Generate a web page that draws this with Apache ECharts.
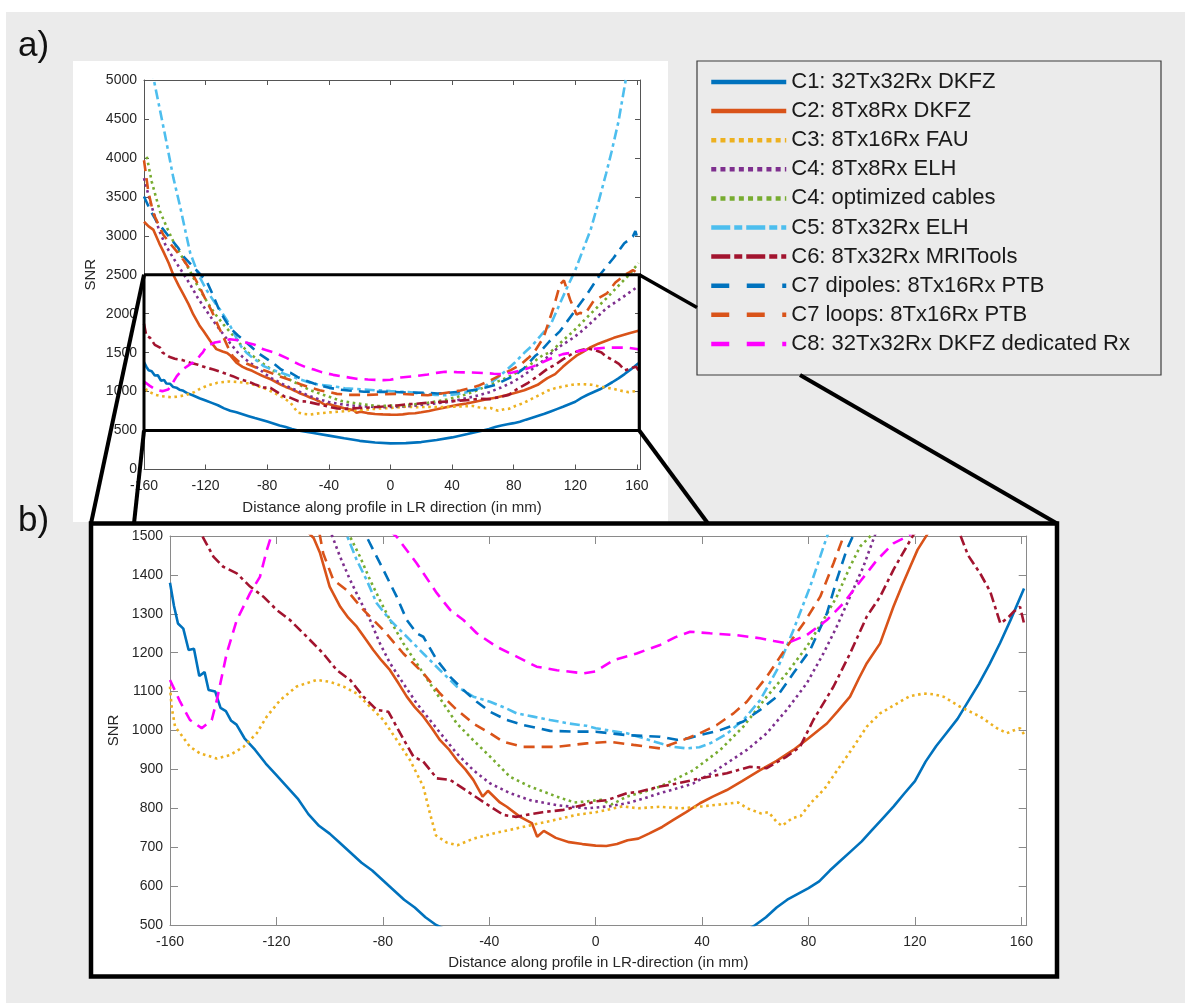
<!DOCTYPE html>
<html><head><meta charset="utf-8">
<script src="https://cdn.jsdelivr.net/npm/echarts@6/dist/echarts.min.js"></script>
<style>html,body{margin:0;padding:0;background:#fff}#c{width:1185px;height:1003px}</style>
</head><body><div id="c"></div>
<script>
// ---------------- data ----------------
const seriesNames = ['C1: 32Tx32Rx DKFZ','C2: 8Tx8Rx DKFZ','C3: 8Tx16Rx FAU','C4: 8Tx8Rx ELH','C4: optimized cables','C5: 8Tx32Rx ELH','C6: 8Tx32Rx MRITools','C7 dipoles: 8Tx16Rx PTB','C7 loops: 8Tx16Rx PTB','C8: 32Tx32Rx DKFZ dedicated Rx'];
const xTicks = [-160,-120,-80,-40,0,40,80,120,160];
const yTicksA = [0,500,1000,1500,2000,2500,3000,3500,4000,4500,5000];
const yTicksB = [500,600,700,800,900,1000,1100,1200,1300,1400,1500];
const zoomBoxX = [-160,161.5];
const zoomBoxY = [500,2500];

const c1 = [[-160,1380],[-158.5,1320],[-157,1275],[-155,1262],[-153,1207],[-151,1210],[-149,1140],[-147,1150],[-145.5,1104],[-143,1100],[-141,1058],[-139,1050],[-137,1025],[-135,1015],[-132,980],[-128,950],[-124,915],[-120,885],[-116,855],[-112,825],[-108,785],[-104,755],[-100,735],[-96,710],[-92,685],[-88,660],[-84,640],[-80,615],[-76,590],[-72,565],[-68,545],[-64,520],[-60,500],[-50,468],[-40,435],[-30,400],[-20,368],[-10,347],[0,335],[10,338],[20,352],[30,378],[40,412],[50,455],[60,500],[64,520],[68,545],[72,565],[76,580],[80,595],[84,612],[88,640],[92,665],[96,690],[100,715],[104,745],[108,775],[112,805],[116,838],[120,870],[124,920],[128,960],[132,995],[136,1030],[140,1075],[144,1120],[148,1170],[152,1225],[156,1285],[161,1365]];
const c2 = [[-160,3180],[-157,3120],[-154,3080],[-150,2900],[-147.5,2800],[-144,2650],[-141,2500],[-137.5,2360],[-134.5,2250],[-131,2120],[-128,1990],[-124,1850],[-121.5,1780],[-117,1650],[-113,1545],[-109,1515],[-106,1495],[-103.6,1456],[-100,1370],[-96,1318],[-93,1290],[-89.8,1267],[-86.5,1235],[-83.6,1207],[-80.5,1180],[-77.3,1155],[-74,1120],[-71,1087],[-68,1060],[-64.8,1036],[-61.5,1005],[-58.5,975],[-55,950],[-52.2,924],[-49,900],[-46,873],[-42.5,830],[-40.5,845],[-36,815],[-33.4,804],[-28.4,778],[-24,762],[-22,727],[-19.5,742],[-15,724],[-10,713],[-5,708],[0,704],[4,703],[8,708],[12,718],[16,722],[20,735],[25,752],[29.2,770],[34,790],[39.2,813],[44,830],[49.3,847],[55,870],[61.8,898],[68,922],[74.3,950],[80,980],[86.9,1018],[91,1050],[95.6,1087],[99,1135],[101.9,1173],[106.9,1224],[111.9,1318],[115,1370],[118.2,1421],[121,1465],[124.5,1503],[130,1570],[135,1615],[140.5,1655],[145,1690],[150,1720],[155,1750],[161,1780]];
const c3 = [[-160,1113],[-159.4,1061],[-158.1,1010],[-156.2,993],[-152.5,958],[-148.7,941],[-142.4,928],[-137.4,937],[-132.4,958],[-127.4,993],[-123.6,1036],[-118.6,1078],[-112.4,1113],[-104.9,1130],[-99.8,1125],[-94.8,1113],[-89.8,1095],[-84.8,1061],[-79.8,1027],[-74.8,976],[-69.8,924],[-64.8,856],[-62.3,787],[-60,730],[-56,712],[-52,705],[-46,722],[-38,736],[-30,748],[-21.4,761],[-14,772],[-7.4,783],[0,790],[4.3,796],[10,805],[16,800],[24,804],[32,800],[40,805],[47,810],[53.5,815],[57,800],[62,787],[65,790],[68,765],[70,755],[74,775],[77,780],[81,815],[86,850],[90,890],[96.9,958],[101.9,1010],[106.9,1044],[114.4,1074],[118,1088],[123.2,1095],[127,1093],[130.7,1087],[137,1061],[144.5,1036],[150.8,1006],[154.5,993],[157,1000],[159.5,1006],[161,990]];
const c4 = [[-160,3740],[-156,3440],[-150,3060],[-146,2880],[-141,2715],[-135,2530],[-130,2375],[-125,2200],[-119.3,2033],[-114,1880],[-108.5,1735],[-104,1620],[-99.2,1503],[-96.1,1447],[-92.3,1387],[-88.6,1335],[-84.8,1284],[-81.1,1224],[-77.3,1173],[-72.3,1121],[-67.3,1070],[-62.3,1027],[-57.3,984],[-52.2,941],[-46,898],[-39.7,864],[-32.2,839],[-24.7,821],[-14.6,808],[-3.4,800],[5,805],[11.7,813],[18,825],[24.2,839],[30,850],[36.7,864],[43,888],[49.3,916],[56.8,950],[64.3,993],[71.8,1053],[79.3,1121],[85.6,1198],[90.6,1267],[95.6,1344],[100.6,1421],[105,1503],[110,1580],[118.8,1692],[125,1790],[130,1880],[140.5,2075],[150,2200],[155,2270],[160,2340]];
const c4opt = [[-158.2,4015],[-155,3696],[-152,3480],[-149.6,3312],[-145,3100],[-141,2929],[-135,2720],[-130.1,2545],[-125,2350],[-119.3,2161],[-114,2000],[-108.5,1863],[-103,1740],[-98,1620],[-95,1560],[-92.3,1498],[-88.6,1447],[-84.8,1387],[-81.1,1335],[-77.3,1284],[-72.3,1224],[-67.3,1173],[-62.3,1121],[-57.3,1070],[-52.2,1018],[-46,975],[-39.7,933],[-32.2,881],[-24.7,856],[-14.6,830],[-8,815],[-3,818],[2,822],[6,810],[11.7,830],[18,842],[24.2,856],[30,875],[36.7,898],[41,920],[46.8,950],[55.5,1010],[64.3,1087],[71.8,1147],[79.3,1215],[85.6,1284],[90.6,1344],[95.6,1421],[99.4,1473],[103.7,1503],[110,1620],[118.8,1777],[125,1900],[130,2000],[140.5,2203],[150,2400],[155,2500],[161,2650]];
const c5 = [[-155,5150],[-153.6,5000],[-150,4650],[-146.4,4300],[-141,3750],[-136.6,3380],[-133,3050],[-130,2780],[-124.7,2500],[-119.3,2300],[-115,2170],[-110.6,2050],[-105,1880],[-100,1690],[-97,1580],[-93.6,1503],[-89.8,1438],[-86.1,1387],[-82.3,1327],[-77.3,1284],[-71,1241],[-64.8,1198],[-58.5,1155],[-52.2,1113],[-46,1087],[-39.7,1074],[-34,1058],[-29.7,1044],[-23,1035],[-17.1,1027],[-10,1018],[-3.4,1012],[0,1006],[5,1000],[11.7,993],[18,980],[24.2,967],[29,958],[34.2,954],[39,957],[43,967],[49,990],[55.5,1027],[61.8,1078],[68.1,1155],[74.3,1258],[80.6,1370],[86.9,1498],[92,1590],[98,1730],[104,1860],[110,2130],[115,2350],[120,2560],[125,2820],[130,3080],[135,3430],[140,3800],[143.5,4076],[148,4463],[152.5,4974],[155,5250]];
const c6 = [[-160,1870],[-158.5,1720],[-156,1690],[-153,1600],[-149.6,1564],[-148.1,1503],[-143.7,1447],[-140,1421],[-134.9,1404],[-129.9,1370],[-124.9,1344],[-119.9,1310],[-114.9,1284],[-108.6,1241],[-102.4,1198],[-97.3,1155],[-92.3,1130],[-87.3,1087],[-82.3,1053],[-77.9,1048],[-73.5,993],[-68.5,933],[-64.8,920],[-59.7,877],[-54.7,873],[-47.2,839],[-39.7,805],[-34.7,783],[-30,778],[-26.2,783],[-20,790],[-12.1,796],[-5,808],[0,818],[4.3,821],[11.7,839],[16,842],[24.2,856],[30,863],[36.7,873],[43,882],[49.3,890],[58,907],[64.3,903],[71.8,933],[76.8,958],[81.8,1027],[89.4,1113],[95.6,1198],[101.9,1293],[106.9,1344],[111.9,1413],[116.9,1473],[119.4,1503],[124,1535],[128.5,1550],[133,1530],[137,1503],[140,1450],[144.5,1404],[148.3,1357],[152.1,1275],[155,1290],[157,1305],[159.5,1318],[161,1275]];
const c7dip = [[-160,3504],[-156,3330],[-151.8,3184],[-147,3070],[-143.1,2971],[-138,2850],[-134.5,2737],[-127,2580],[-119.3,2417],[-115,2230],[-111.8,2075],[-108,1940],[-104.2,1820],[-99,1720],[-93.3,1628],[-89.5,1560],[-86.1,1498],[-79.8,1413],[-74.8,1344],[-71,1284],[-67.3,1250],[-64.8,1241],[-59.7,1181],[-54.7,1138],[-49.7,1104],[-44.7,1074],[-39.7,1048],[-33.4,1027],[-27.2,1014],[-17.1,999],[-7.1,997],[0,997],[11.7,988],[24.2,984],[30.5,976],[35,980],[39.2,988],[46.8,1001],[55.5,1023],[61.8,1053],[68.1,1087],[74.3,1147],[80.6,1207],[86.9,1301],[90.6,1387],[94.3,1464],[96.9,1503],[103,1640],[110.1,1777],[118.8,2011],[127.5,2247],[136.1,2503],[144.8,2715],[151.8,2905],[155,2950],[157.4,2992],[159,3060],[160,2990],[161,3050]];
const c7loop = [[-160,3970],[-157.2,3568],[-154,3290],[-147.5,3014],[-143,2900],[-138.8,2800],[-134,2680],[-130.1,2567],[-123.6,2331],[-120,2180],[-116,2033],[-112,1850],[-108,1680],[-105,1550],[-102.4,1455],[-98.6,1387],[-93.6,1361],[-87.3,1310],[-79.8,1258],[-72.3,1198],[-64.8,1147],[-58.5,1095],[-52.2,1053],[-46,1018],[-39.7,993],[-34.7,971],[-27.2,958],[-14.6,958],[-3.4,967],[5.4,971],[14.2,963],[24.2,954],[33,976],[39.2,993],[45.5,1014],[51.8,1044],[56.8,1074],[64.3,1138],[71.8,1215],[78.1,1275],[84.4,1344],[89.4,1430],[93.1,1498],[99.3,1692],[105.8,2075],[110.1,2375],[112.6,2428],[116.6,2183],[120.8,1990],[123.1,2011],[126.4,2000],[131.8,2161],[140.5,2260],[146,2400],[151.8,2493],[155,2530],[157.4,2559],[161,2515]];
const c8 = [[-160,1130],[-156.2,1074],[-152.5,1027],[-148.1,1006],[-144.3,1027],[-142.4,1078],[-138.7,1198],[-134.9,1284],[-129.9,1353],[-126.2,1395],[-123.6,1464],[-121.8,1503],[-119.3,1586],[-114,1630],[-108.5,1650],[-104.2,1671],[-99,1660],[-93.3,1628],[-88,1600],[-82.5,1543],[-74.8,1498],[-67.3,1430],[-59.7,1353],[-54.7,1310],[-49.7,1284],[-44.7,1250],[-37.2,1215],[-29.7,1190],[-22.2,1164],[-14.6,1155],[-4.6,1147],[0,1152],[6.7,1181],[15.4,1198],[24.2,1220],[30,1240],[35.5,1254],[43,1250],[53,1245],[61.8,1237],[67,1230],[71.8,1224],[79.3,1245],[86.9,1284],[93.1,1327],[99.4,1383],[105.7,1438],[111.9,1481],[115.7,1494],[122,1520],[129.6,1543],[140,1565],[153.4,1564],[161,1543]];

const seriesValues = [c1,c2,c3,c4,c4opt,c5,c6,c7dip,c7loop,c8];

// ---------------- styles ----------------
const colors = ['#0072BD','#D95319','#EDB120','#7E2F8E','#77AC30','#4DBEEE','#A2142F','#0072BD','#D95319','#FF00FF'];
const kinds = ['solid','solid','dot','dot','dot','dashdot','dashdot','dash','dash','dash'];
const plotDash = {solid:'solid', dot:[2.6,3.6], dashdot:[10,4,3.5,4], dash:[11,7]};
const legendDash = {solid:'solid', dot:[5,4.2], dashdot:[19,4,8,4], dash:[18,17.5]};
const FONT = '"Liberation Sans", Arial, Helvetica, sans-serif';
const TXT = '#262626';

const xMin = xTicks[0], xMax = 162, xStep = xTicks[1]-xTicks[0];

const chart = echarts.init(document.getElementById('c'), null, {renderer:'canvas', width:1185, height:1003});

function xAx(g, pos, labels, tl, col, name, gap) {
  return {
    gridIndex:g, type:'value', position:pos, min:xMin, max:xMax, interval:xStep,
    axisLine:{show:true, onZero:false, lineStyle:{color:col, width:1}},
    axisTick:{show:true, inside:true, length:tl, lineStyle:{color:col, width:1}},
    axisLabel:{show:labels, margin:10, fontSize:14, color:TXT, fontFamily:FONT,
      formatter:v => (Math.abs(v % xStep) < 1e-9 ? String(v) : '')},
    splitLine:{show:false},
    name: name || '', nameLocation:'middle', nameGap: gap || 0,
    nameTextStyle:{fontSize:15, color:TXT, fontFamily:FONT}
  };
}
function yAx(g, pos, labels, ticks, tl, col, name, gap) {
  return {
    gridIndex:g, type:'value', position:pos, min:ticks[0], max:ticks[ticks.length-1], interval:ticks[1]-ticks[0],
    axisLine:{show:true, onZero:false, lineStyle:{color:col, width:1}},
    axisTick:{show:true, inside:true, length:tl, lineStyle:{color:col, width:1}},
    axisLabel:{show:labels, margin:7, fontSize:14, color:TXT, fontFamily:FONT, formatter:v => String(v)},
    splitLine:{show:false},
    name: name || '', nameLocation:'middle', nameGap: gap || 0,
    nameTextStyle:{fontSize:15, color:TXT, fontFamily:FONT}
  };
}

const series = [];
[0,1].forEach(g => {
  seriesValues.forEach((vals, i) => {
    series.push({
      type:'line', name:seriesNames[i], xAxisIndex: g*2, yAxisIndex: g*2,
      data: vals, symbol:'none', showSymbol:false, smooth:false, clip:true,
      lineStyle:{color:colors[i], width:2.6, type:plotDash[kinds[i]], cap:'butt'},
      itemStyle:{color:colors[i]}, silent:true, z:2
    });
  });
});
// zoom rectangle in panel a
series.push({
  type:'line', name:'zoomBox', xAxisIndex:0, yAxisIndex:0, symbol:'none', clip:false, silent:true, z:10,
  data:[[zoomBoxX[0],zoomBoxY[1]],[zoomBoxX[1],zoomBoxY[1]],[zoomBoxX[1],zoomBoxY[0]],[zoomBoxX[0],zoomBoxY[0]],[zoomBoxX[0],zoomBoxY[1]]],
  lineStyle:{color:'#000', width:3, join:'miter'}
});

const option = {
  animation:false,
  backgroundColor:'#ffffff',
  grid:[
    {left:144, top:80, width:496, height:389.5},
    {left:170, top:536, width:856.7, height:389}
  ],
  xAxis:[
    xAx(0,'bottom',true,5,'#555','Distance along profile in LR direction (in mm)',31),
    xAx(0,'top',false,5,'#555'),
    xAx(1,'bottom',true,8,'#8a8a8a','Distance along profile in LR-direction (in mm)',30),
    xAx(1,'top',false,8,'#8a8a8a')
  ],
  yAxis:[
    yAx(0,'left',true,yTicksA,5,'#555','SNR',46),
    yAx(0,'right',false,yTicksA,5,'#555'),
    yAx(1,'left',true,yTicksB,8,'#8a8a8a','SNR',40),
    yAx(1,'right',false,yTicksB,8,'#8a8a8a')
  ],
  legend:{
    orient:'vertical', left:709, top:71, padding:0, itemWidth:75, itemHeight:14, itemGap:7.1,
    selectedMode:false,
    textStyle:{fontSize:22, lineHeight:22, color:'#1a1a1a', fontFamily:FONT},
    lineStyle:{width:4.5},
    itemStyle:{opacity:0, color:'rgba(0,0,0,0)', borderWidth:0},
    data: seriesNames.map((n,i) => ({name:n,
      itemStyle:{opacity:0, color:'rgba(0,0,0,0)', borderWidth:0},
      lineStyle:{width:4.5, type:legendDash[kinds[i]], color:colors[i], cap:'butt', opacity:1}}))
  },
  series: series
};
chart.setOption(option);

// ---------------- layout graphics ----------------
const tl = chart.convertToPixel({gridIndex:0}, [zoomBoxX[0], zoomBoxY[1]]);
const tr = chart.convertToPixel({gridIndex:0}, [zoomBoxX[1], zoomBoxY[1]]);
const bl = chart.convertToPixel({gridIndex:0}, [zoomBoxX[0], zoomBoxY[0]]);
const br = chart.convertToPixel({gridIndex:0}, [zoomBoxX[1], zoomBoxY[0]]);
const frame = {x:91, y:523.5, w:966, h:453};
const legendBox = {x:697, y:61, w:464, h:314};
function seg(id, a, b, w) {
  return {type:'line', id:id, z:100, silent:true, shape:{x1:a[0], y1:a[1], x2:b[0], y2:b[1]}, style:{stroke:'#000', lineWidth:w||4, lineCap:'butt'}};
}
chart.setOption({
  graphic:{elements:[
    {type:'rect', id:'bg', z:-10, silent:true, shape:{x:6,y:12,width:1179,height:991}, style:{fill:'#ebebeb'}},
    {type:'rect', id:'panelA', z:-9, silent:true, shape:{x:73,y:61,width:595,height:461}, style:{fill:'#ffffff'}},
    {type:'rect', id:'frameB', z:-8, silent:true, shape:{x:frame.x,y:frame.y,width:frame.w,height:frame.h}, style:{fill:'#ffffff', stroke:'#000', lineWidth:4.5}},
    {type:'rect', id:'legBox', z:-7, silent:true, shape:{x:legendBox.x,y:legendBox.y,width:legendBox.w,height:legendBox.h}, style:{fill:'none', stroke:'#3c3c3c', lineWidth:1.2}},
    {type:'text', id:'la', z:50, silent:true, x:18, y:46, style:{text:'a)', fontSize:35, fontFamily:FONT, fill:'#111', verticalAlign:'middle', align:'left'}},
    {type:'text', id:'lb', z:50, silent:true, x:18, y:521, style:{text:'b)', fontSize:35, fontFamily:FONT, fill:'#111', verticalAlign:'middle', align:'left'}},
    seg('l1', tl, [frame.x, frame.y]),
    seg('l2', bl, [134, frame.y]),
    seg('l3', tr, [legendBox.x, 307.5], 3.5),
    seg('l4', br, [708, frame.y]),
    seg('l5', [800, legendBox.y + legendBox.h], [frame.x + frame.w, frame.y])
  ]}
});
</script>
</body></html>
